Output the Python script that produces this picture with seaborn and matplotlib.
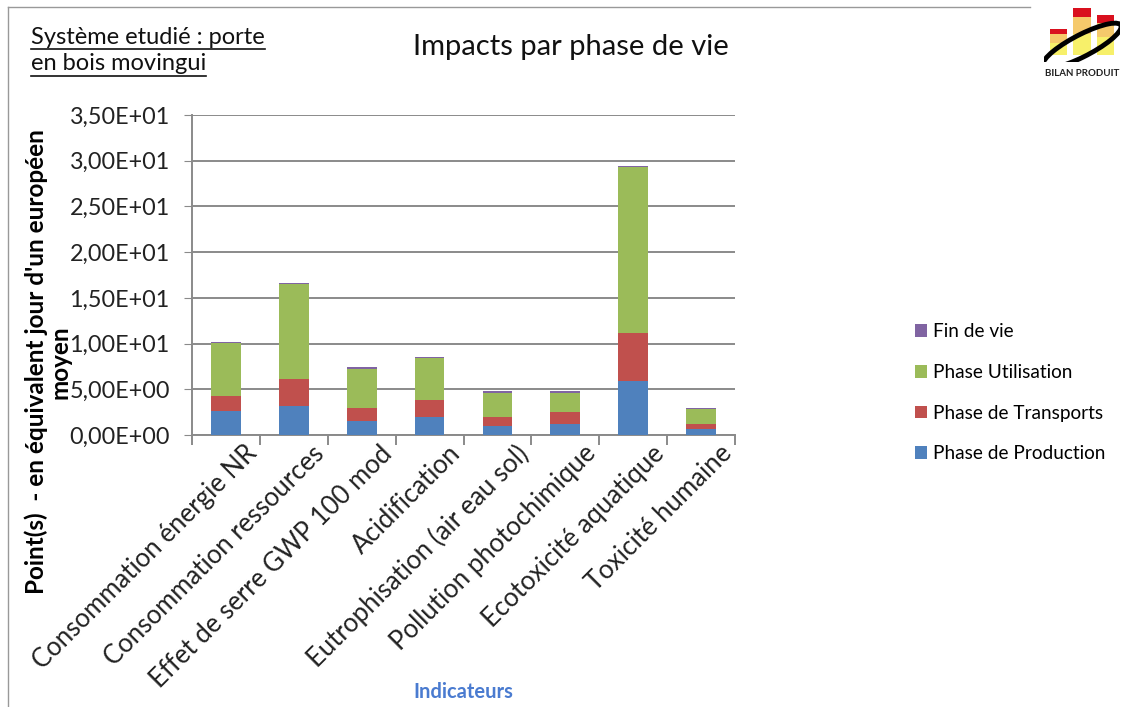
import matplotlib
matplotlib.use("Agg")
import matplotlib.pyplot as plt
import matplotlib.transforms as mtransforms
from matplotlib.lines import Line2D
from matplotlib.patches import Patch, Ellipse
import numpy as np
import pandas as pd
import seaborn as sns

# --- data ---
categories = [
    "Consommation énergie NR",
    "Consommation ressources",
    "Effet de serre GWP 100 mod",
    "Acidification",
    "Eutrophisation (air eau sol)",
    "Pollution photochimique",
    "Ecotoxicité aquatique",
    "Toxicité humaine",
]
production = [2.66, 3.17, 1.53, 2.00, 0.98, 1.20, 5.94, 0.66]
transports = [1.64, 2.96, 1.46, 1.83, 1.02, 1.28, 5.26, 0.51]
utilisation = [5.73, 10.36, 4.26, 4.59, 2.63, 2.15, 18.10, 1.64]
fin_de_vie = [0.17, 0.14, 0.19, 0.15, 0.14, 0.14, 0.10, 0.14]

phases = ["Phase de Production", "Phase de Transports", "Phase Utilisation", "Fin de vie"]
colors = ["#4F81BD", "#C0504D", "#9BBB59", "#8064A2"]
yticks = np.arange(0, 36, 5)

logo_bars = [0.55, 1.0, 0.85]

df = pd.DataFrame({
    "indicateur": categories,
    phases[0]: production,
    phases[1]: transports,
    phases[2]: utilisation,
    phases[3]: fin_de_vie,
})
cum = df[phases].cumsum(axis=1)
cum["indicateur"] = df["indicateur"]

plt.rcParams["font.family"] = ["Lato", "DejaVu Sans"]

W, H = 1121, 707
fig = plt.figure(figsize=(W / 100, H / 100), dpi=100)
ax = fig.add_axes([192 / W, 1 - 435 / H, (735 - 192) / W, (435 - 115) / H])

# stacked bars: draw cumulative totals from top layer down
for phase, color in reversed(list(zip(phases, colors))):
    sns.barplot(data=cum, x="indicateur", y=phase, color=color, width=0.44,
                saturation=1, ax=ax, zorder=3)

ax.set_ylim(0, 35)
ax.set_xlim(-0.5, len(categories) - 0.5)
ax.set_yticks(yticks)
labels = []
for v in yticks:
    if v == 0:
        labels.append("0,00E+00")
    elif v < 10:
        labels.append(f"{v:.2f}".replace(".", ",") + "E+00")
    else:
        labels.append(f"{v / 10:.2f}".replace(".", ",") + "E+01")
ax.set_yticklabels(labels, fontsize=16.8, color="#222222")
ax.grid(axis="y", color="#8a8a8a", linewidth=1.4, zorder=0)
ax.set_axisbelow(True)
for s in ["top", "right"]:
    ax.spines[s].set_visible(False)
for s in ["left", "bottom"]:
    ax.spines[s].set_color("#8a8a8a")
    ax.spines[s].set_linewidth(1.4)
ax.tick_params(axis="y", length=6, color="#8a8a8a", pad=10)

ax.set_xticks(np.arange(len(categories)))
ax.set_xticks(np.arange(-0.5, len(categories)), minor=True)
ax.tick_params(axis="x", which="major", length=0, pad=2)
ax.tick_params(axis="x", which="minor", length=7, color="#8a8a8a", width=1.4)
offset = mtransforms.ScaledTranslation(18 / 100, -3 / 100, fig.dpi_scale_trans)
ax.set_xticklabels(categories, rotation=45, ha="right", va="top",
                   rotation_mode="anchor", fontsize=18.5, color="#222222")
for lbl in ax.get_xticklabels():
    lbl.set_transform(lbl.get_transform() + offset)
ax.set_xlabel("")
ax.set_ylabel("")

# axis titles
fig.text(48 / W, 1 - 362 / H, "Point(s)  - en équivalent jour d'un européen\nmoyen",
         rotation=90, ha="center", va="center", multialignment="center",
         fontsize=17.5, fontweight="bold", linespacing=1.0)
fig.text(463 / W, 1 - 692 / H, "Indicateurs", ha="center", va="center",
         fontsize=14.5, fontweight="bold", color="#4A7BD0")

# titles
fig.text(571 / W, 1 - 47 / H, "Impacts par phase de vie", ha="center", va="center",
         fontsize=21, color="#111111")
sub1 = fig.text(31 / W, 1 - 37 / H, "Système etudié : porte", ha="left", va="center",
                fontsize=17, color="#111111")
sub2 = fig.text(31 / W, 1 - 64 / H, "en bois movingui", ha="left", va="center",
                fontsize=17, color="#111111")

# legend
handles = [Patch(facecolor=c, edgecolor="none") for c in colors]
leg = fig.legend(handles[::-1], phases[::-1], loc="upper left",
                 bbox_to_anchor=(898 / W, 1 - 306 / H), frameon=False,
                 fontsize=13.7, handlelength=0.65, handleheight=0.65,
                 handletextpad=0.3, labelspacing=1.25)

# frame lines
fig.add_artist(Line2D([8 / W, 8 / W], [0, 1 - 7 / H], color="#999999", linewidth=1))
fig.add_artist(Line2D([8 / W, 1030 / W], [1 - 7 / H, 1 - 7 / H], color="#999999", linewidth=1))

# underline the subtitle
fig.canvas.draw()
renderer = fig.canvas.get_renderer()
for t in (sub1, sub2):
    bb = t.get_window_extent(renderer).transformed(fig.transFigure.inverted())
    y = bb.y0 - 1 / H
    fig.add_artist(Line2D([bb.x0, bb.x1], [y, y], color="#111111", linewidth=1.2))

# small logo top right
lax = fig.add_axes([1044 / W, 1 - 62 / H, 76 / W, 54 / H])
lax.set_xlim(-0.6, 2.6)
lax.set_ylim(-0.15, 1)
lax.axis("off")
for i, h in enumerate(logo_bars):
    lax.bar(i, h * 0.45, color="#F7F06A", width=0.72, zorder=1)
    lax.bar(i, h * 0.35, bottom=h * 0.45, color="#F5C96B", width=0.72, zorder=1)
    lax.bar(i, h * 0.2, bottom=h * 0.8, color="#D9101E", width=0.72, zorder=1)
lax.add_patch(Ellipse((1.0, 0.2), 3.4, 0.5, angle=14, fill=False,
                      edgecolor="black", linewidth=3.5, zorder=2))
fig.text(1082 / W, 1 - 73 / H, "BILAN PRODUIT", ha="center", va="center",
         fontsize=7, fontweight="bold", color="#222222")

fig.savefig("out.png", dpi=100)
